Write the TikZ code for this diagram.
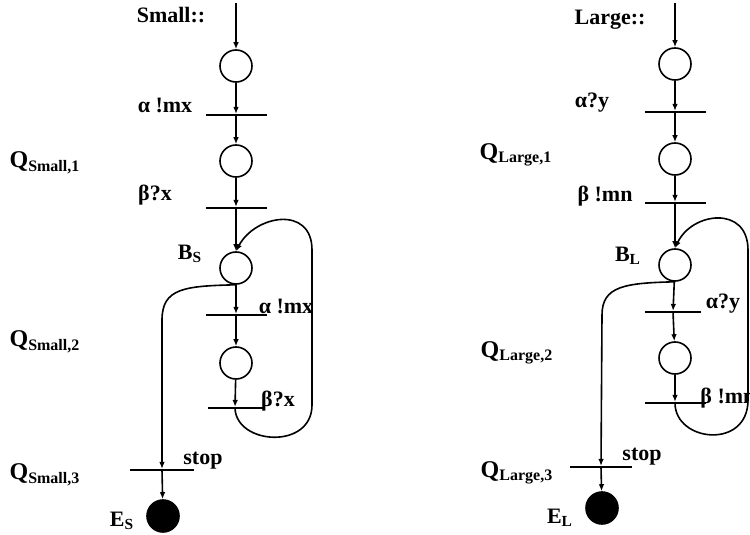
\documentclass[tikz,border=0pt]{standalone}
\usepackage{fontspec}
\setmainfont{Liberation Serif}
\usetikzlibrary{arrows.meta}

\newcommand{\qname}[1]{Q\textsubscript{#1}}

\begin{document}
\begin{tikzpicture}[
  x=0.5pt, y=-0.5pt,
  font=\bfseries\fontsize{11}{12}\selectfont,
  place/.style={draw, circle, thick, minimum size=16pt, inner sep=0pt},
  final/.style={place, fill=black},
  bar/.style={fill=black, minimum width=30.5pt, minimum height=0.7pt, inner sep=0pt},
  lab/.style={inner sep=0pt},
  qlab/.style={inner sep=0pt, font=\bfseries\fontsize{12}{13}\selectfont},
  arr/.style={-{Latex[length=3.5pt, width=2.8pt]}, thick},
]
\useasboundingbox (0,0) rectangle (750,535);
\clip (0,0) rectangle (750,535);

% Small
\node[lab] (nmS) at (171,15) {Small::};
\coordinate (inS) at (236,3);
\node[place] (s1) at (236,66) {};
\node[bar] (s1t) at (236,115) {};
\node[lab] (l1S) at (165,105) {α !mx};
\node[place] (s2) at (236,161) {};
\node[bar] (s2t) at (236,208) {};
\node[lab] (l2S) at (155,195) {β?x};
\node[place] (bS) at (236,268) {};
\node[lab] (nbS) at (190,254) {B\textsubscript{S}};
\node[bar] (s3t) at (236,315) {};
\node[lab] (l3S) at (286,306) {α !mx};
\node[place] (s4) at (236,363) {};
\node[bar, minimum width=27.5pt] (s4t) at (235,408) {};
\node[lab] (l4S) at (278,401) {β?x};
\node[bar, minimum width=32pt] (stS) at (162,470) {};
\node[lab] (lstS) at (203,461) {stop};
\node[final] (eS) at (163,516) {};
\node[lab] (neS) at (122,521) {E\textsubscript{S}};
\node[qlab] (qS1) at (45,163) {\qname{Small,1}};
\node[qlab] (qS2) at (45,342) {\qname{Small,2}};
\node[qlab] (qS3) at (45,475) {\qname{Small,3}};

\draw[arr] (inS) -- (s1);
\draw[arr] (s1) -- (s1t);
\draw[arr] (s1t) -- (s2);
\draw[arr] (s2) -- (s2t);
\draw[arr] (s2t) -- (bS);
\draw[arr] (bS) -- (s3t);
\draw[arr] (s3t) -- (s4);
\draw[arr] (s4) -- (s4t);
\draw[arr] (s4t.center) .. controls (236,445) and (312,450) .. (312,405)
  -- (312,250) .. controls (312,205) and (255,215) .. (bS.north);
\draw[arr] (bS.south) .. controls (185,286) and (162,288) .. (162,320) -- (stS);
\draw[arr] (stS) -- (eS);

% Large
\node[lab] (nmL) at (610,20) {Large::};
\coordinate (inL) at (675,3);
\node[place] (r1) at (675,64) {};
\node[bar] (r1t) at (675,112) {};
\node[lab] (l1L) at (592,103) {α?y};
\node[place] (r2) at (675,159) {};
\node[bar] (r2t) at (675,203) {};
\node[lab] (l2L) at (605,196) {β !mn};
\node[place] (bL) at (675,265) {};
\node[lab] (nbL) at (628,256) {B\textsubscript{L}};
\node[bar, minimum width=28pt] (r3t) at (673,312) {};
\node[lab] (l3L) at (723,304) {α?y};
\node[place] (r4) at (675,358) {};
\node[bar] (r4t) at (675,403) {};
\node[lab, anchor=west] (l4L) at (700,398) {β !mn};
\node[bar, minimum width=31pt] (stL) at (601,467) {};
\node[lab] (lstL) at (642,457) {stop};
\node[final] (eL) at (602,508) {};
\node[lab] (neL) at (560,518) {E\textsubscript{L}};
\node[qlab] (qL1) at (516,155) {\qname{Large,1}};
\node[qlab] (qL2) at (517,353) {\qname{Large,2}};
\node[qlab] (qL3) at (517,473) {\qname{Large,3}};

\draw[arr] (inL) -- (r1);
\draw[arr] (r1) -- (r1t);
\draw[arr] (r1t) -- (r2);
\draw[arr] (r2) -- (r2t);
\draw[arr] (r2t) -- (bL);
\draw[arr] (bL) -- (r3t);
\draw[arr] (r3t) -- (r4);
\draw[arr] (r4) -- (r4t);
\draw[arr] (r4t.center) .. controls (675,442) and (748,450) .. (748,400)
  -- (748,250) .. controls (748,205) and (692,212) .. (bL.north);
\draw[arr] (bL.south) .. controls (625,283) and (602,286) .. (602,315) -- (stL);
\draw[arr] (stL) -- (eL);
\end{tikzpicture}
\end{document}
